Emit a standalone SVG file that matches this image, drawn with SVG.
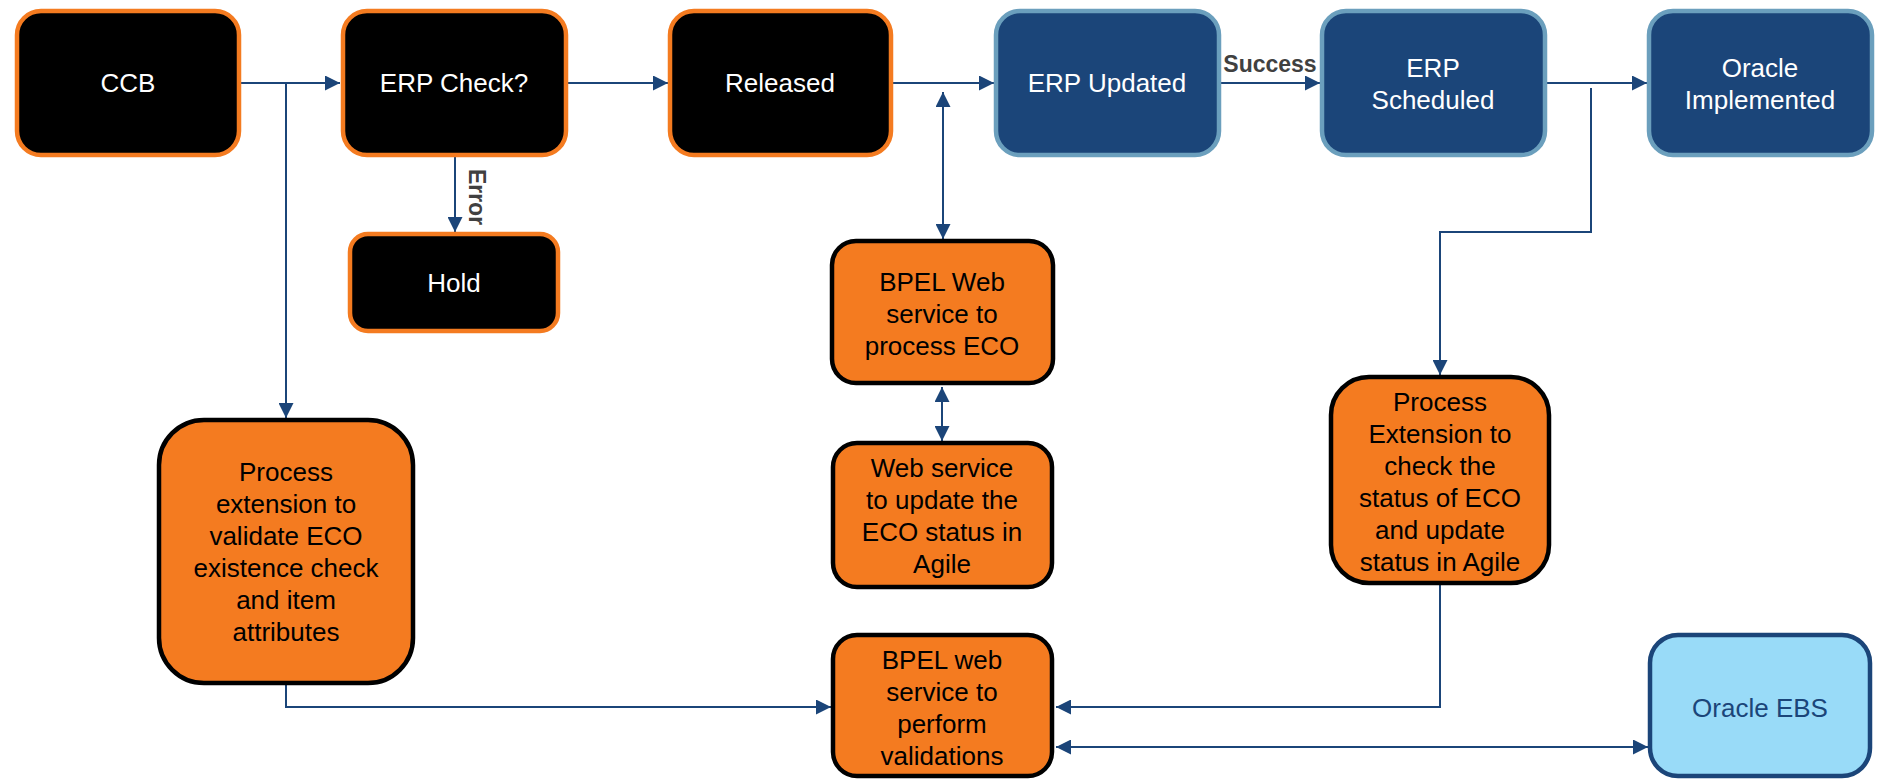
<svg xmlns="http://www.w3.org/2000/svg" width="1878" height="781" viewBox="0 0 1878 781">
<style>
text{font-family:"Liberation Sans",Arial,sans-serif;font-size:26px;text-anchor:middle}
.blk rect{fill:#000;stroke:#f47b20;stroke-width:4.5}
.blu rect{fill:#1b4579;stroke:#6b9fbd;stroke-width:4.5}
.org rect{fill:#f47b20;stroke:#000;stroke-width:4.5}
.ebs rect{fill:#99dbf8;stroke:#1b4579;stroke-width:4.5}
.blk text,.blu text{fill:#fff}
.org text{fill:#000}
.ebs text{fill:#1b4579}
.lbl{font-weight:bold;font-size:23px;fill:#404040}
.conn path{fill:none;stroke:#1b4579;stroke-width:2}
</style>
<defs>
<marker id="ah" markerUnits="userSpaceOnUse" markerWidth="15" markerHeight="15" refX="15" refY="7.5" orient="auto-start-reverse">
<path d="M0,0 L15,7.5 L0,15 z" fill="#1b4579"/>
</marker>
</defs>
<g id="connectors" class="conn">
<path d="M241,83 H340" marker-end="url(#ah)"/>
<path d="M286,83 V418" marker-end="url(#ah)"/>
<path d="M568,83 H668" marker-end="url(#ah)"/>
<path d="M455,157 V232" marker-end="url(#ah)"/>
<path d="M893,83 H994" marker-end="url(#ah)"/>
<path d="M943,92 V239" marker-start="url(#ah)" marker-end="url(#ah)"/>
<path d="M1221,83 H1320" marker-end="url(#ah)"/>
<path d="M1547,83 H1647" marker-end="url(#ah)"/>
<path d="M1591,88 V232 H1440 V375" marker-end="url(#ah)"/>
<path d="M942,387 V441" marker-start="url(#ah)" marker-end="url(#ah)"/>
<path d="M286,685 V707 H831" marker-end="url(#ah)"/>
<path d="M1440,585 V707 H1056" marker-end="url(#ah)"/>
<path d="M1056,747 H1648" marker-start="url(#ah)" marker-end="url(#ah)"/>
<text class="lbl" x="1270" y="72">Success</text>
<text class="lbl" x="0" y="0" dominant-baseline="central" transform="translate(477 197) rotate(90)">Error</text>
</g>
<g id="ccb" class="blk"><rect x="17" y="11" width="222" height="144" rx="24"/><text x="128" y="92">CCB</text></g>
<g id="erp-check" class="blk"><rect x="343" y="11" width="223" height="144" rx="24"/><text x="454" y="92">ERP Check?</text></g>
<g id="released" class="blk"><rect x="670" y="11" width="221" height="144" rx="24"/><text x="780" y="92">Released</text></g>
<g id="hold" class="blk"><rect x="350" y="234" width="208" height="97" rx="18"/><text x="454" y="292">Hold</text></g>
<g id="erp-updated" class="blu"><rect x="996" y="11" width="223" height="144" rx="24"/><text x="1107" y="92">ERP Updated</text></g>
<g id="erp-scheduled" class="blu"><rect x="1322" y="11" width="223" height="144" rx="24"/><text x="1433" y="77">ERP</text><text x="1433" y="109">Scheduled</text></g>
<g id="oracle-implemented" class="blu"><rect x="1649" y="11" width="223" height="144" rx="24"/><text x="1760" y="77">Oracle</text><text x="1760" y="109">Implemented</text></g>
<g id="bpel-process" class="org"><rect x="832" y="241" width="221" height="142" rx="24"/><text x="942" y="291">BPEL Web</text><text x="942" y="323">service to</text><text x="942" y="355">process ECO</text></g>
<g id="ws-update" class="org"><rect x="833" y="443" width="219" height="144" rx="24"/><text x="942" y="477">Web service</text><text x="942" y="509">to update the</text><text x="942" y="541">ECO status in</text><text x="942" y="573">Agile</text></g>
<g id="bpel-validate" class="org"><rect x="833" y="635" width="219" height="141" rx="24"/><text x="942" y="669">BPEL web</text><text x="942" y="701">service to</text><text x="942" y="733">perform</text><text x="942" y="765">validations</text></g>
<g id="pe-validate" class="org"><rect x="159" y="420" width="254" height="263" rx="45"/><text x="286" y="481">Process</text><text x="286" y="513">extension to</text><text x="286" y="545">validate ECO</text><text x="286" y="577">existence check</text><text x="286" y="609">and item</text><text x="286" y="641">attributes</text></g>
<g id="pe-status" class="org"><rect x="1331" y="377" width="218" height="206" rx="38"/><text x="1440" y="411">Process</text><text x="1440" y="443">Extension to</text><text x="1440" y="475">check the</text><text x="1440" y="507">status of ECO</text><text x="1440" y="539">and update</text><text x="1440" y="571">status in Agile</text></g>
<g id="oracle-ebs" class="ebs"><rect x="1650" y="635" width="220" height="141" rx="28"/><text x="1760" y="717">Oracle EBS</text></g>
</svg>
